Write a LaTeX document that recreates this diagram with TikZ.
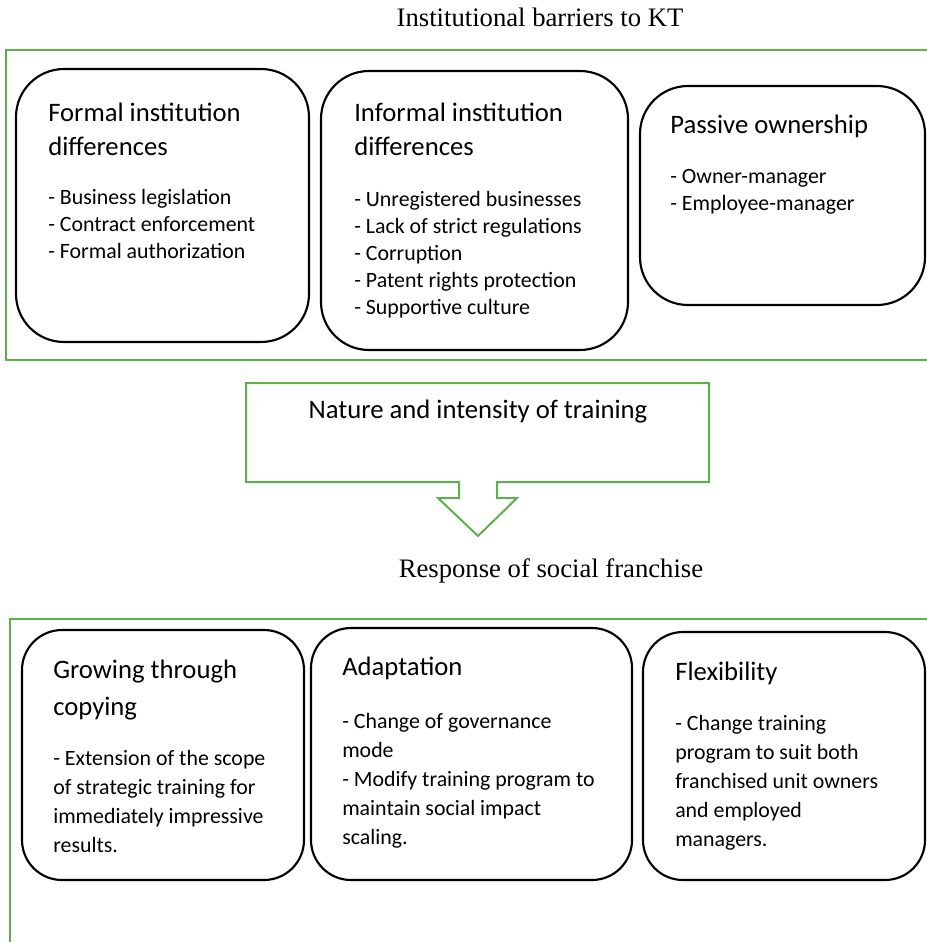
\documentclass[tikz,border=0pt]{standalone}
\usepackage{fontspec}
\setmainfont{Carlito}
\newfontfamily\timesfont{Liberation Serif}
\definecolor{boxgreen}{RGB}{92, 178, 72}
\usetikzlibrary{fit}
\tikzset{
	card/.style={rectangle, rounded corners=36pt, draw=black, line width=1.6pt, inner sep=0pt},
	lowcard/.style={card, rounded corners=30pt},
	frame/.style={draw=boxgreen, line width=2.2pt},
	callout/.style={draw=boxgreen, line width=1.5pt, line join=miter},
	heading/.style={anchor=base west, align=left, inner sep=0pt, font=\fontsize{20}{24.75}\selectfont},
	lowheading/.style={heading, font=\fontsize{20}{27.75}\selectfont},
	items/.style={anchor=base west, align=left, inner sep=0pt, font=\fontsize{16.4}{20.25}\selectfont},
	lowitems/.style={items, font=\fontsize{16.4}{21.75}\selectfont},
	caption/.style={anchor=base, inner sep=0pt, font=\timesfont\fontsize{20}{24}\selectfont},
}

\begin{document}
\begin{tikzpicture}[x=0.75pt, y=-0.75pt]
		\useasboundingbox (0,0) rectangle (927,942);
		\node[caption] (barriers) at (540,27) {Institutional barriers to KT};
		\draw[frame] (927,50) -- (6,50) -- (6,360) -- (927,360);
		\node[card, fit={(16,69) (309,342)}] (formal) {};
		\node[card, fit={(321,71) (628,350)}] (informal) {};
		\node[card, fit={(640,86) (925,305)}] (passive) {};
		\node[heading] (formalhead) at (48,155) {Formal institution\\differences};
		\node[items] (formallist) at (48,258) {- Business legislation\\- Contract enforcement\\- Formal authorization};
		\node[heading] (informalhead) at (354,155) {Informal institution\\differences};
		\node[items] (informallist) at (354,314) {- Unregistered businesses\\- Lack of strict regulations\\- Corruption\\- Patent rights protection\\- Supportive culture};
		\node[heading] (passivehead) at (670,133) {Passive ownership};
		\node[items] (passivelist) at (670,210) {- Owner-manager\\- Employee-manager};
		\draw[callout] (246,383) -- (709,383) -- (709,482) -- (497,482) -- (497,498) -- (517,498)
			-- (478,536) -- (438,498) -- (459,498) -- (459,482) -- (246,482) -- cycle;
		\node[heading, anchor=base] (nature) at (478,418) {Nature and intensity of training};
		\node[caption] (response) at (551,577) {Response of social franchise};
		\draw[frame] (927,619) -- (10,619) -- (10,942);
		\node[lowcard, fit={(22,630) (304,880)}] (growing) {};
		\node[lowcard, fit={(311,628) (632,880)}] (adapt) {};
		\node[lowcard, fit={(643,632) (925,880)}] (flexible) {};
		\node[lowheading] (growinghead) at (53,715) {Growing through\\copying};
		\node[lowitems] (growinglist) at (53,852) {- Extension of the scope\\of strategic training for\\immediately impressive\\results.};
		\node[lowheading] (adapthead) at (342,675) {Adaptation};
		\node[lowitems] (adaptlist) at (342,844) {- Change of governance\\mode\\- Modify training program to\\maintain social impact\\scaling.};
		\node[lowheading] (flexiblehead) at (675,680) {Flexibility};
		\node[lowitems] (flexiblelist) at (675,846) {- Change training\\program to suit both\\franchised unit owners\\and employed\\managers.};
	\end{tikzpicture}
\end{document}
